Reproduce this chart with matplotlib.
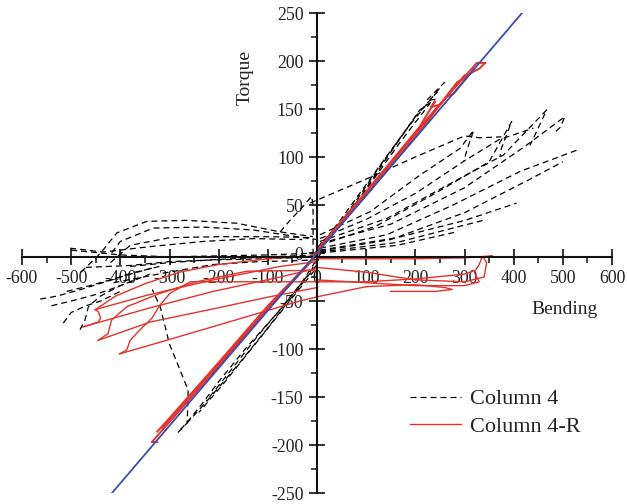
import matplotlib
matplotlib.use("Agg")
import matplotlib.pyplot as plt
from matplotlib.lines import Line2D
from matplotlib.ticker import MultipleLocator

plt.rcParams['font.family'] = ['Liberation Serif', 'DejaVu Serif']
plt.rcParams['axes.unicode_minus'] = False

# ---------------- data ----------------
x_ticks = [-600, -500, -400, -300, -200, -100, 0, 100, 200, 300, 400, 500, 600]
y_ticks = [-250, -200, -150, -100, -50, 0, 50, 100, 150, 200, 250]

# reference line (blue)
ref_x = [-417, 417]
ref_y = [-250, 250]

# Column 4 (black dashed)
c4_up1_x = [0, 73, 142, 209, 240, 223, 260]
c4_up1_y = [5, 47, 99, 149, 160, 159, 178]
c4_up2_x = [-5, 60, 130, 200, 245]
c4_up2_y = [-3, 40, 92, 142, 168]
c4_up3_x = [-8, 40, 100, 170, 230]
c4_up3_y = [-6, 25, 66, 116, 156]
c4_up4_x = [-3, 50, 115, 185, 250]
c4_up4_y = [0, 36, 82, 131, 172]
c4_dn1_x = [8, -30, -80, -146, -200, -232, -262, -283]
c4_dn1_y = [0, -30, -62, -100, -134, -156, -175, -187]
c4_dn2_x = [0, -50, -100, -160, -220, -255, -270]
c4_dn2_y = [-12, -45, -78, -116, -152, -172, -180]
c4_dn3_x = [-5, -40, -90, -140, -190, -240]
c4_dn3_y = [-18, -40, -72, -104, -136, -166]
c4_dn4_x = [4, -20, -60, -120, -175, -225]
c4_dn4_y = [-6, -24, -50, -86, -122, -154]
c4_ret_x = [-283, -264, -262, -280, -300, -319, -335]
c4_ret_y = [-187, -177, -143, -120, -95, -56, -38]
c4_arc1_x = [-480, -440, -407, -346, -265, -163, -75, -8]
c4_arc1_y = [-20, 0, 21, 33, 34, 31, 22, 17]
c4_arc2_x = [-430, -400, -333, -232, -130, -41, 0]
c4_arc2_y = [-8, 12, 26, 27, 24, 17, 14]
c4_arc3_x = [-420, -380, -299, -197, -96, -8]
c4_arc3_y = [-10, 8, 16, 17, 17, 16]
c4_arc4_x = [-502, -435, -333, -232, -130, -30]
c4_arc4_y = [5, 1, 7, 12, 15, 14]
c4_spike_x = [-75, -55, -31, -11, -8, -8]
c4_spike_y = [22, 34, 47, 59, 50, 0]
c4_ax1_x = [-500, -400, -300, -200, -100, 0]
c4_ax1_y = [3, -2, -4, -3, -2, 0]
c4_ax2_x = [-470, -380, -300, -200, -100, 0]
c4_ax2_y = [-15, -13, -9, -7, -6, -4]
c4_ax3_x = [-414, -313, -211, -120, -40, 0]
c4_ax3_y = [-31, -21, -12, -9, -8, -7]
c4_ax4_x = [-380, -300, -211, -100, 0]
c4_ax4_y = [-14, -10, -7, -4, -2]
c4_cl1_x = [-563, -530, -480, -430, -380, -330]
c4_cl1_y = [-48, -45, -38, -30, -22, -15]
c4_cl2_x = [-509, -470, -420, -370, -320]
c4_cl2_y = [-40, -35, -28, -20, -14]
c4_cl3_x = [-482, -472, -465, -441, -400, -340]
c4_cl3_y = [-80, -70, -56, -45, -34, -22]
c4_cl4_x = [-516, -500, -470, -440, -400]
c4_cl4_y = [-73, -62, -55, -50, -40]
c4_cl5_x = [-540, -500, -455, -410, -360]
c4_cl5_y = [-55, -50, -44, -36, -26]
c4_fan1_x = [6, 142, 277, 413, 528]
c4_fan1_y = [5, 19, 50, 85, 107]
c4_fan2_x = [6, 142, 277, 379, 467, 447, 433]
c4_fan2_y = [12, 36, 74, 102, 149, 127, 112]
c4_fan3_x = [6, 108, 209, 291, 319, 308, 298]
c4_fan3_y = [19, 43, 81, 109, 128, 112, 95]
c4_fan4_x = [6, 163, 301, 406]
c4_fan4_y = [3, 16, 34, 52]
c4_fan5_x = [6, 163, 338]
c4_fan5_y = [1, 11, 34]
c4_fan6_x = [6, 163, 284]
c4_fan6_y = [0, 8, 22]
c4_fan7_x = [6, 120, 240, 350, 396, 375, 372]
c4_fan7_y = [8, 28, 62, 95, 137, 109, 100]
c4_fan8_x = [6, 150, 300, 430, 500]
c4_fan8_y = [2, 14, 42, 76, 95]
c4_fan9_x = [6, 150, 300, 420, 504, 495, 482]
c4_fan9_y = [10, 30, 68, 110, 142, 131, 125]
c4_fan10_x = [6, 100, 200, 300, 370, 440]
c4_fan10_y = [15, 35, 62, 96, 118, 130]
c4_str_x = [-14, 100, 200, 300, 331, 375]
c4_str_y = [52, 77, 100, 122, 120, 121]

# Column 4-R (red)
r_up1_x = [0, 100, 200, 280, 325, 342]
r_up1_y = [3, 64, 126, 172, 198, 198]
r_up2_x = [342, 330, 315, 300, 285, 270, 252, 232, 240, 200, 100, 0]
r_up2_y = [198, 192, 188, 182, 178, 168, 155, 152, 158, 124, 63, 1]
r_up3_x = [-5, 100, 200, 262, 278, 320]
r_up3_y = [-1, 60, 121, 162, 166, 192]
r_up4_x = [-3, 90, 180, 250, 300]
r_up4_y = [0, 57, 112, 155, 185]
r_dn1_x = [0, -100, -200, -300, -336, -325]
r_dn1_y = [-2, -58, -118, -176, -197, -197]
r_dn2_x = [5, -100, -200, -300, -325]
r_dn2_y = [1, -55, -114, -172, -186]
r_dn3_x = [2, -90, -180, -260, -315]
r_dn3_y = [-1, -52, -104, -150, -182]
r_ld1_x = [0, -100, -200, -280, -350, -410, -451]
r_ld1_y = [-3, -6, -12, -20, -32, -45, -59]
r_hk1_x = [-451, -445, -440, -445, -476]
r_hk1_y = [-59, -61, -68, -72, -77]
r_ul1_x = [-476, -346, -211, -75, 0]
r_ul1_y = [-77, -58, -40, -25, -16]
r_ul0_x = [-451, -346, -211, -75, 0]
r_ul0_y = [-59, -44, -28, -14, -9]
r_ld2_x = [0, -143, -245, -319, -387, -418, -425, -445]
r_ld2_y = [-18, -19, -30, -42, -56, -70, -84, -91]
r_ul2_x = [-445, -340, -200, -100, 0]
r_ul2_y = [-91, -72, -57, -46, -36]
r_ld3_x = [0, -258, -299, -319, -336, -360, -380, -387, -401]
r_ld3_y = [-30, -30, -42, -54, -68, -80, -91, -101, -105]
r_ul3_x = [-401, -340, -200, -35, 6, 101]
r_ul3_y = [-105, -96, -75, -50, -45, -35]
r_rt1_x = [0, 100, 200, 300, 356]
r_rt1_y = [-6, -6, -6, -5, -3]
r_rt2_x = [356, 335, 330, 322, 300, 200, 100, 0]
r_rt2_y = [-3, -5, -12, -18, -22, -27, -30, -30]
r_rt3_x = [0, 100, 200, 300, 340, 345, 340]
r_rt3_y = [-15, -20, -28, -30, -25, -10, -6]
r_rt4_x = [101, 150, 200, 260, 275, 240, 150]
r_rt4_y = [-35, -34, -33, -36, -38, -40, -40]
r_rt5_x = [0, 100, 200, 300, 330, 320]
r_rt5_y = [-28, -31, -34, -34, -30, -20]

black_x = [c4_up1_x, c4_up2_x, c4_up3_x, c4_up4_x, c4_dn1_x, c4_dn2_x, c4_dn3_x, c4_dn4_x,
           c4_ret_x, c4_arc1_x, c4_arc2_x, c4_arc3_x, c4_arc4_x, c4_spike_x,
           c4_ax1_x, c4_ax2_x, c4_ax3_x, c4_ax4_x,
           c4_cl1_x, c4_cl2_x, c4_cl3_x, c4_cl4_x, c4_cl5_x,
           c4_fan1_x, c4_fan2_x, c4_fan3_x, c4_fan4_x, c4_fan5_x, c4_fan6_x,
           c4_fan7_x, c4_fan8_x, c4_fan9_x, c4_fan10_x, c4_str_x]
black_y = [c4_up1_y, c4_up2_y, c4_up3_y, c4_up4_y, c4_dn1_y, c4_dn2_y, c4_dn3_y, c4_dn4_y,
           c4_ret_y, c4_arc1_y, c4_arc2_y, c4_arc3_y, c4_arc4_y, c4_spike_y,
           c4_ax1_y, c4_ax2_y, c4_ax3_y, c4_ax4_y,
           c4_cl1_y, c4_cl2_y, c4_cl3_y, c4_cl4_y, c4_cl5_y,
           c4_fan1_y, c4_fan2_y, c4_fan3_y, c4_fan4_y, c4_fan5_y, c4_fan6_y,
           c4_fan7_y, c4_fan8_y, c4_fan9_y, c4_fan10_y, c4_str_y]
red_x = [r_up1_x, r_up2_x, r_up3_x, r_up4_x, r_dn1_x, r_dn2_x, r_dn3_x, r_ld1_x, r_hk1_x,
         r_ul1_x, r_ul0_x, r_ld2_x, r_ul2_x, r_ld3_x, r_ul3_x,
         r_rt1_x, r_rt2_x, r_rt3_x, r_rt4_x, r_rt5_x]
red_y = [r_up1_y, r_up2_y, r_up3_y, r_up4_y, r_dn1_y, r_dn2_y, r_dn3_y, r_ld1_y, r_hk1_y,
         r_ul1_y, r_ul0_y, r_ld2_y, r_ul2_y, r_ld3_y, r_ul3_y,
         r_rt1_y, r_rt2_y, r_rt3_y, r_rt4_y, r_rt5_y]

# ---------------- figure ----------------
RED = '#e5322b'
BLUE = '#3a4db3'
TXT = '#222222'

fig = plt.figure(figsize=(6.27, 5.04), dpi=100)
ax = fig.add_axes([22 / 627, 1 - 493 / 504, 590 / 627, 480 / 504])
ax.set_xlim(-600, 600)
ax.set_ylim(-250, 250)
ax.set_axisbelow(True)

for xs, ys in zip(black_x, black_y):
    ax.plot(xs, ys, color='black', lw=0.9, dashes=(4.8, 3.2))
for i, (xs, ys) in enumerate(zip(red_x, red_y)):
    ax.plot(xs, ys, color=RED, lw=1.4 if i < 7 else 1.0)
ax.plot(ref_x, ref_y, color=BLUE, lw=1.3, zorder=4)

for s in ['top', 'right']:
    ax.spines[s].set_visible(False)
ax.spines['left'].set_position(('data', 0))
ax.spines['bottom'].set_position(('data', -4))
for s in ['left', 'bottom']:
    ax.spines[s].set_linewidth(1.5)
    ax.spines[s].set_color('#111111')

ax.set_xticks(x_ticks)
ax.set_xticklabels([str(v) for v in x_ticks])
ax.set_yticks(y_ticks)
ax.set_yticklabels([str(v) for v in y_ticks])
ax.xaxis.set_minor_locator(MultipleLocator(50))
ax.yaxis.set_minor_locator(MultipleLocator(25))
ax.tick_params(which='major', direction='inout', length=11.5, width=1.2,
               colors='#111111', labelsize=12.8, labelcolor=TXT, pad=4)
ax.tick_params(which='minor', direction='out', length=4.5, width=1.1, colors='#111111')

ax.text(0.378, 0.865, 'Torque', transform=ax.transAxes, rotation=90,
        ha='center', va='center', fontsize=14, color=TXT)
ax.text(0.920, 0.383, 'Bending', transform=ax.transAxes,
        ha='center', va='center', fontsize=14, color=TXT)

handles = [Line2D([], [], color='black', lw=0.9, dashes=(4.8, 3.2)),
           Line2D([], [], color=RED, lw=1.0)]
ax.legend(handles, ['Column 4', 'Column 4-R'], loc='upper left',
          bbox_to_anchor=(0.658, 0.217), frameon=False, fontsize=16,
          handlelength=2.3, handletextpad=0.4, borderpad=0, borderaxespad=0,
          labelspacing=0.3, labelcolor=TXT)

fig.savefig('out.png', dpi=100)
